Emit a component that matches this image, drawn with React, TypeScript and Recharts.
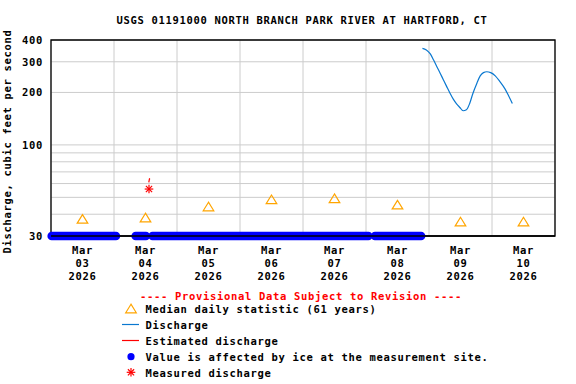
import React from "react";
import {
  ComposedChart,
  Line,
  Scatter,
  XAxis,
  YAxis,
  CartesianGrid,
  ReferenceArea,
} from "recharts";

const TITLE = "USGS 01191000 NORTH BRANCH PARK RIVER AT HARTFORD, CT";
const Y_LABEL = "Discharge, cubic feet per second";
const PROVISIONAL = "---- Provisional Data Subject to Revision ----";
const MONTH = "Mar";
const YEAR = "2026";
const DAYS = ["03", "04", "05", "06", "07", "08", "09", "10"];
const Y_TICKS = [30, 40, 50, 60, 70, 80, 90, 100, 200, 300, 400];
const Y_LABELED = [30, 100, 200, 300, 400];
const Y_DOMAIN = [30, 400];

const MEDIAN_VALUES = [37.6, 38.3, 44.3, 48.7, 49.4, 45.4, 36.3, 36.3];

const DISCHARGE_TIMES = [
  "03-08 21:30", "03-08 23:00", "03-09 00:30", "03-09 01:45", "03-09 03:00",
  "03-09 04:15", "03-09 05:30", "03-09 06:45", "03-09 08:00", "03-09 09:15",
  "03-09 10:30", "03-09 11:45", "03-09 13:00", "03-09 14:15", "03-09 15:30",
  "03-09 16:45", "03-09 18:15", "03-09 19:30", "03-09 20:45", "03-09 22:00",
  "03-09 23:30", "03-10 01:15", "03-10 03:00", "03-10 05:00", "03-10 06:30",
  "03-10 07:45",
];
const DISCHARGE_VALUES = [
  358, 351, 333, 307, 281, 258, 236, 216, 198, 183, 172, 164, 157, 159, 173,
  198, 226, 249, 260, 263, 260, 249, 231, 209, 189, 173,
];

const ESTIMATED_TIMES = ["03-04 13:15", "03-04 13:30", "03-04 13:45"];
const ESTIMATED_VALUES = [61, 63.8, 64];

const MEASURED_TIMES = ["03-04 13:20"];
const MEASURED_VALUES = [55.8];

const ICE_VALUE = 30;
const ICE_STARTS = ["03-03 00:15", "03-04 08:15", "03-04 14:40", "03-08 03:25"];
const ICE_ENDS = ["03-04 00:45", "03-04 12:10", "03-08 00:55", "03-08 21:00"];

const LEGEND_ITEMS = [
  "Median daily statistic (61 years)",
  "Discharge",
  "Estimated discharge",
  "Value is affected by ice at the measurement site.",
  "Measured discharge",
];

const FONT = "'DejaVu Sans Mono', 'Liberation Mono', monospace";
const BLUE_LINE = "#0a78d0";
const ORANGE = "#ffa500";
const RED = "#ff0000";
const ICE_BLUE = "#0000ff";

const firstDay = Number(DAYS[0]);
const toHours = (s: string) => {
  const [md, hm] = s.split(" ");
  const d = Number(md.split("-")[1]);
  const [h, mi] = hm.split(":").map(Number);
  return (d - firstDay) * 24 + h + mi / 60;
};

const gridTicks = [...DAYS.map((_, i) => i * 24), DAYS.length * 24];
const labelTicks = DAYS.map((_, i) => i * 24 + 12);
const xDomain = [0, DAYS.length * 24];

const medianData = MEDIAN_VALUES.map((v, i) => ({ t: i * 24 + 12, v }));
const dischargeData = DISCHARGE_TIMES.map((s, i) => ({ t: toHours(s), v: DISCHARGE_VALUES[i] }));
const estimatedData = ESTIMATED_TIMES.map((s, i) => ({ t: toHours(s), v: ESTIMATED_VALUES[i] }));
const measuredData = MEASURED_TIMES.map((s, i) => ({ t: toHours(s), v: MEASURED_VALUES[i] }));
const iceRuns = ICE_STARTS.map((s, i) => [
  { t: toHours(s), v: ICE_VALUE },
  { t: toHours(ICE_ENDS[i]), v: ICE_VALUE },
]);
const baseLine = [
  { t: xDomain[0], v: Y_DOMAIN[0] },
  { t: xDomain[1], v: Y_DOMAIN[0] },
];

const textStyle = {
  fontFamily: FONT,
  fontWeight: "bold" as const,
  fontSize: 10.5,
  letterSpacing: 0.68,
  fill: "#000",
};

const Triangle = ({ cx, cy, color = ORANGE }: any) => (
  <polygon
    points={`${cx},${cy - 4.3} ${cx - 5.3},${cy + 4.3} ${cx + 5.3},${cy + 4.3}`}
    fill="none"
    stroke={color}
    strokeWidth={1.2}
  />
);

const Asterisk = ({ cx, cy }: any) => {
  const r = 4.3;
  const d = r * 0.72;
  return (
    <g stroke={RED} strokeWidth={1.2}>
      <line x1={cx - r} y1={cy} x2={cx + r} y2={cy} />
      <line x1={cx} y1={cy - r} x2={cx} y2={cy + r} />
      <line x1={cx - d} y1={cy - d} x2={cx + d} y2={cy + d} />
      <line x1={cx - d} y1={cy + d} x2={cx + d} y2={cy - d} />
    </g>
  );
};

const DayTick = (props: any) => {
  const { x, y, payload } = props;
  const idx = labelTicks.indexOf(payload.value);
  if (idx < 0) return <g />;
  return (
    <text x={x} y={y} textAnchor="middle" style={textStyle}>
      <tspan x={x} dy={10}>{MONTH}</tspan>
      <tspan x={x} dy={13}>{DAYS[idx]}</tspan>
      <tspan x={x} dy={13}>{YEAR}</tspan>
    </text>
  );
};

const YTick = (props: any) => {
  const { x, y, payload } = props;
  if (!Y_LABELED.includes(payload.value)) return <g />;
  return (
    <text x={x} y={y} dy={4} textAnchor="end" style={textStyle}>
      {payload.value}
    </text>
  );
};

const verticalGen = (p: any) => {
  const sc = p?.xAxis?.scale;
  if (typeof sc === "function") return gridTicks.map((t) => sc(t));
  if (sc && typeof sc.map === "function") return gridTicks.map((t) => sc.map(t));
  return [];
};

export default function App() {
  return (
    <div style={{ position: "absolute", left: 0, top: 0, width: 576, height: 384, background: "#fff" }}>
      <ComposedChart width={576} height={384} margin={{ top: 40, right: 21, left: 11, bottom: 98 }}>
        <CartesianGrid stroke="#cccccc" strokeWidth={1} verticalCoordinatesGenerator={verticalGen} />
        <XAxis
          dataKey="t"
          type="number"
          domain={xDomain}
          ticks={labelTicks}
          interval={0}
          tick={(p: any) => <DayTick {...p} />}
          tickLine={false}
          axisLine={false}
          height={50}
        />
        <YAxis
          type="number"
          scale="log"
          domain={Y_DOMAIN}
          ticks={Y_TICKS}
          interval={0}
          tick={(p: any) => <YTick {...p} />}
          tickLine={false}
          axisLine={false}
          width={40}
        />
        <ReferenceArea x1={xDomain[0]} x2={xDomain[1]} y1={Y_DOMAIN[0]} y2={Y_DOMAIN[1]} fill="none" fillOpacity={0} stroke="#000" strokeWidth={1.3} />
        {iceRuns.map((run, i) => (
          <Line
            key={`ice${i}`}
            data={run}
            dataKey="v"
            stroke={ICE_BLUE}
            strokeWidth={8.5}
            strokeLinecap="round"
            dot={false}
            activeDot={false}
            isAnimationActive={false}
          />
        ))}
        <Line
          data={baseLine}
          dataKey="v"
          stroke="#000"
          strokeWidth={1.3}
          dot={false}
          activeDot={false}
          isAnimationActive={false}
        />
        <Line
          data={dischargeData}
          dataKey="v"
          type="monotone"
          stroke={BLUE_LINE}
          strokeWidth={1.2}
          dot={false}
          activeDot={false}
          isAnimationActive={false}
        />
        <Line
          data={estimatedData}
          dataKey="v"
          stroke={RED}
          strokeWidth={1.2}
          dot={false}
          activeDot={false}
          isAnimationActive={false}
        />
        <Scatter data={medianData} dataKey="v" shape={(p: any) => <Triangle {...p} />} isAnimationActive={false} />
        <Scatter data={measuredData} dataKey="v" shape={(p: any) => <Asterisk {...p} />} isAnimationActive={false} />
      </ComposedChart>
      <svg
        width={576}
        height={384}
        style={{ position: "absolute", left: 0, top: 0, pointerEvents: "none" }}
      >
        <text x={302} y={24} textAnchor="middle" style={textStyle}>{TITLE}</text>
        <text x={11} y={141.5} textAnchor="middle" transform="rotate(-90 11 141.5)" style={textStyle}>
          {Y_LABEL}
        </text>
        <text x={301} y={299.5} textAnchor="middle" style={{ ...textStyle, fill: RED }}>{PROVISIONAL}</text>
        {LEGEND_ITEMS.map((label, i) => (
          <text key={label} x={145.5} y={313 + i * 16} style={textStyle}>{label}</text>
        ))}
        <Triangle cx={131} cy={308.5} />
        <line x1={122} x2={139} y1={324.5} y2={324.5} stroke={BLUE_LINE} strokeWidth={1.2} />
        <line x1={122} x2={139} y1={340.5} y2={340.5} stroke={RED} strokeWidth={1.2} />
        <circle cx={131} cy={356.7} r={3.6} fill={ICE_BLUE} />
        <Asterisk cx={131} cy={372.3} />
      </svg>
    </div>
  );
}
